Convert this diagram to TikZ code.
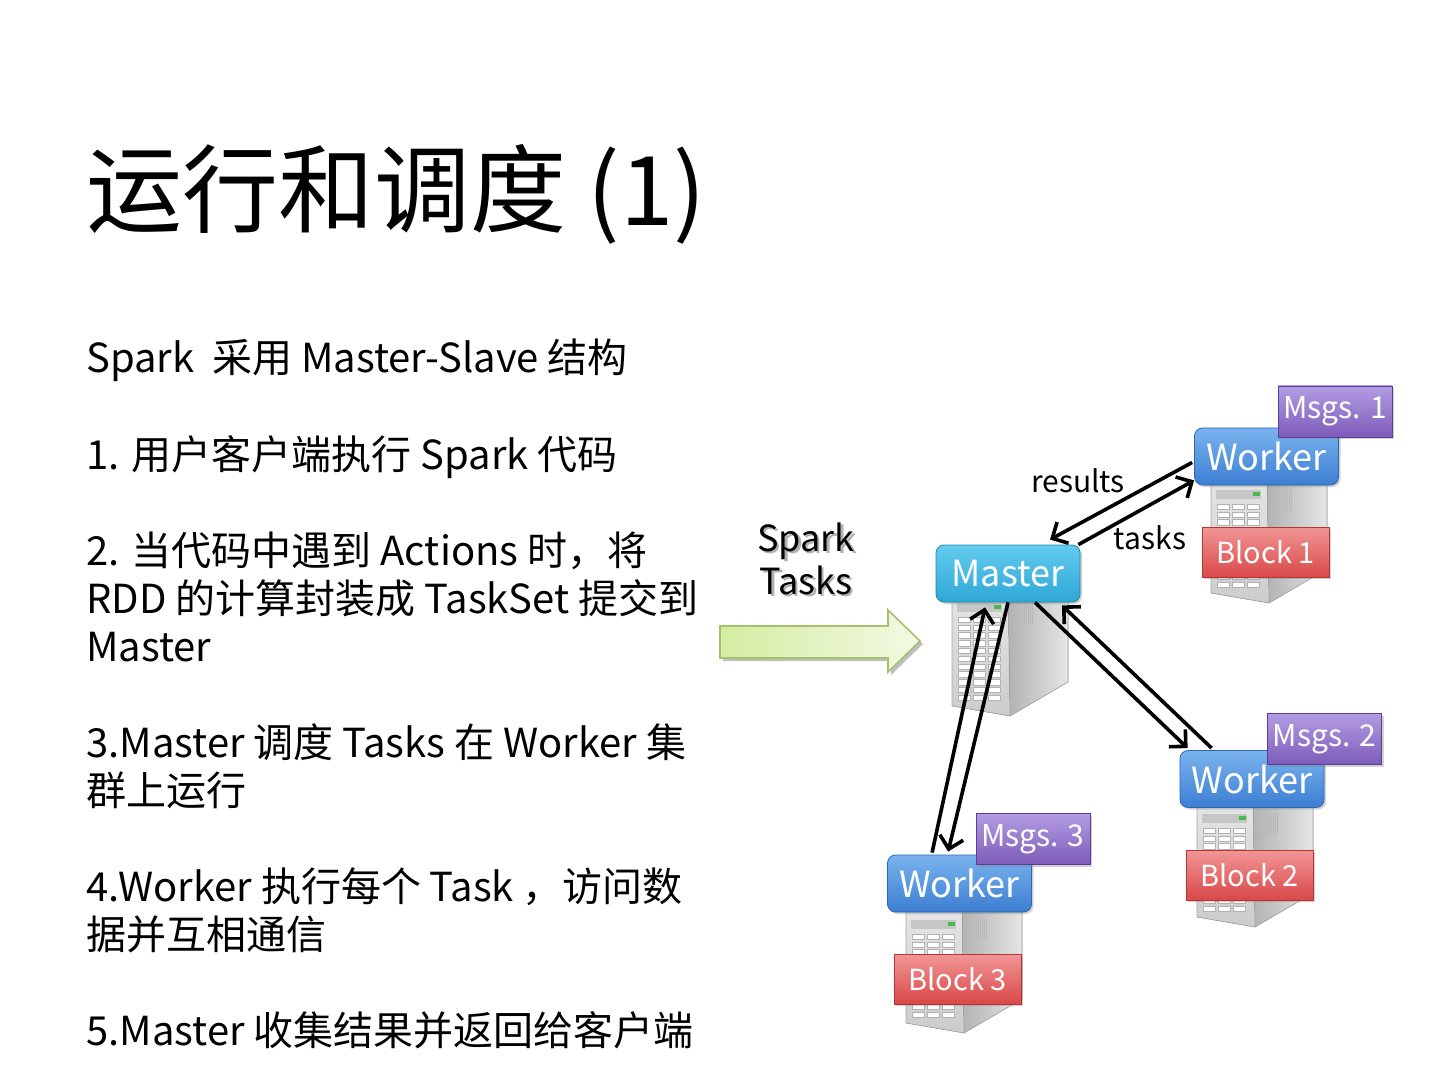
\documentclass[tikz,border=0pt]{standalone}
\usepackage{fontspec}
\setmainfont{Noto Sans CJK SC}
\usetikzlibrary{arrows.meta,shadows,calc,positioning}
\definecolor{mastertop}{HTML}{63CBEE}
\definecolor{masterbot}{HTML}{2EA7D7}
\definecolor{masterline}{HTML}{2288B0}
\definecolor{workertop}{HTML}{7AB3EE}
\definecolor{workerbot}{HTML}{3C7ED2}
\definecolor{workerline}{HTML}{2F68AE}
\definecolor{msgtop}{HTML}{B39CE3}
\definecolor{msgbot}{HTML}{7D5BB9}
\definecolor{msgline}{HTML}{5A3E95}
\definecolor{blocktop}{HTML}{F29696}
\definecolor{blockbot}{HTML}{D94848}
\definecolor{blockline}{HTML}{B53535}
\definecolor{pushleft}{HTML}{D4EDA0}
\definecolor{pushright}{HTML}{F3F9E4}
\definecolor{pushline}{HTML}{A5C26B}
\tikzset{
	slidetitle/.style={
		anchor=base west,
		inner sep=0pt,
		font=\fontsize{48pt}{52pt}\selectfont
	},
	slidetext/.style={
		anchor=base west,
		inner sep=0pt,
		font=\fontsize{20pt}{24pt}\selectfont
	},
	box/.style={
		rectangle,
		text=white,
		inner sep=0pt,
		drop shadow={shadow xshift=1pt,shadow yshift=-1pt,opacity=.35}
	},
	masterbox/.style={
		box,
		rounded corners=4pt,
		top color=mastertop,
		bottom color=masterbot,
		draw=masterline,
		minimum width=72pt,
		minimum height=28.5pt,
		font=\fontsize{18pt}{20pt}\selectfont
	},
	workerbox/.style={
		box,
		rounded corners=4pt,
		top color=workertop,
		bottom color=workerbot,
		draw=workerline,
		minimum width=72pt,
		minimum height=28.5pt,
		font=\fontsize{18pt}{20pt}\selectfont
	},
	msgbox/.style={
		box,
		top color=msgtop,
		bottom color=msgbot,
		draw=msgline,
		minimum width=57pt,
		minimum height=25.5pt,
		font=\fontsize{15pt}{17pt}\selectfont
	},
	blockbox/.style={
		box,
		top color=blocktop,
		bottom color=blockbot,
		draw=blockline,
		minimum width=63.5pt,
		minimum height=25pt,
		font=\fontsize{14.5pt}{17pt}\selectfont
	},
	linklabel/.style={
		inner sep=0pt,
		font=\fontsize{15pt}{17pt}\selectfont
	},
	pushlabel/.style={
		align=center,
		inner sep=0pt,
		font=\fontsize{18pt}{21.5pt}\selectfont
	},
	pusharrow/.style={
		draw=pushline,
		line width=0.8pt,
		left color=pushleft,
		right color=pushright,
		preaction={fill=black!25,transform canvas={xshift=1.5pt,yshift=-1.5pt}}
	},
	link/.style={
		draw=black,
		line width=1.8pt,
		->
	},
	tower/.pic={
		\fill[left color=gray!60,right color=gray!20] (56,-12) -- (116,-16) -- (116,82) -- (58,116) -- cycle;
		\fill[top color=gray!20,bottom color=gray!40] (0,-12) -- (56,-12) -- (58,116) -- (0,106) -- cycle;
		\draw[gray!70,line width=0.3pt] (0,-12) -- (56,-12) -- (58,116) -- (0,106) -- cycle;
		\draw[gray!70,line width=0.3pt] (56,-12) -- (116,-16) -- (116,82) -- (58,116);
		\fill[gray!45] (5,3) rectangle (50,12);
		\fill[green!60!black!70] (42,5) rectangle (49,9);
		\foreach \r in {0,...,10}
			\foreach \c in {0,1,2}
				\draw[fill=white,draw=gray!60,line width=0.3pt] (6+\c*15,17+\r*7.8) rectangle +(12,5.5);
		\foreach \v in {66,68,...,80}
			\draw[gray!55,line width=0.4pt] (\v,2) -- (\v,24);
	}
}
\newcommand{\shadowed}[1]{\rlap{\kern1.2pt\raisebox{-1.2pt}{\textcolor{gray!60}{#1}}}#1}

\begin{document}
\begin{tikzpicture}[x=0.5pt,y=-0.5pt,>={Straight Barb[length=6pt,width=12pt]}]
	\useasboundingbox[fill=white] (0,0) rectangle (1440,1080);

	% title and text
	\node[slidetitle] (title) at (86,226) {运行和调度 (1)};
	\node[slidetext] (intro) at (86,373) {Spark~~采用 Master-Slave 结构};
	\node[slidetext] (step1) at (86,469) {1. 用户客户端执行 Spark 代码};
	\node[slidetext] (step2a) at (86,565) {2. 当代码中遇到 Actions 时，将};
	\node[slidetext] (step2b) at (86,613) {RDD 的计算封装成 TaskSet 提交到};
	\node[slidetext] (step2c) at (86,661) {Master};
	\node[slidetext] (step3a) at (86,757) {3.Master 调度 Tasks 在 Worker 集};
	\node[slidetext] (step3b) at (86,805) {群上运行};
	\node[slidetext] (step4a) at (86,901) {4.Worker 执行每个 Task ，访问数};
	\node[slidetext] (step4b) at (86,949) {据并互相通信};
	\node[slidetext] (step5) at (86,1045) {5.Master 收集结果并返回给客户端};

	% incoming tasks
	\draw[pusharrow] (720,626) -- (888,626) -- (888,610) -- (920,641) -- (888,672) -- (888,658) -- (720,658) -- cycle;
	\node[pushlabel] (push) at (806,560) {\shadowed{Spark}\\\shadowed{Tasks}};

	% servers
	\pic (mtower) at (952,600) {tower};
	\pic (wtower1) at (1211,487) {tower};
	\pic (wtower2) at (1197,811) {tower};
	\pic (wtower3) at (906,917) {tower};

	% boxes
	\node[masterbox] (master) at (1008,573.5) {Master};
	\node[workerbox] (worker1) at (1266.5,456.5) {Worker};
	\node[workerbox] (worker2) at (1252,779) {Worker};
	\node[workerbox] (worker3) at (959.5,883.5) {Worker};
	\node[msgbox] (msgs1) at (1335,411.5) {Msgs. 1};
	\node[msgbox] (msgs2) at (1324.5,739) {Msgs. 2};
	\node[msgbox] (msgs3) at (1033,839) {Msgs. 3};
	\node[blockbox] (block1) at (1265.5,552) {Block 1};
	\node[blockbox] (block2) at (1249.5,875) {Block 2};
	\node[blockbox] (block3) at (957.5,979) {Block 3};

	% links
	\draw[link] ($(worker1.west)+(-2,6)$) -- ($(master.north)+(42,-5)$);
	\draw[link] ($(master.north east)+(-2,0)$) -- ($(worker1.south west)+(0,-5)$);
	\draw[link] ($(master.south)+(27,0)$) -- ($(worker2.north west)+(8,-2)$);
	\draw[link] ($(worker2.north west)+(32,-2)$) -- ($(master.south)+(54,3)$);
	\draw[link] (master.south) -- ($(worker3.north west)+(61,-3)$);
	\draw[link] ($(worker3.north west)+(45,-2)$) -- ($(master.south)+(-23,5)$);
	\node[linklabel] (results) at (1078,481) {results};
	\node[linklabel] (tasks) at (1150,538) {tasks};
\end{tikzpicture}
\end{document}
